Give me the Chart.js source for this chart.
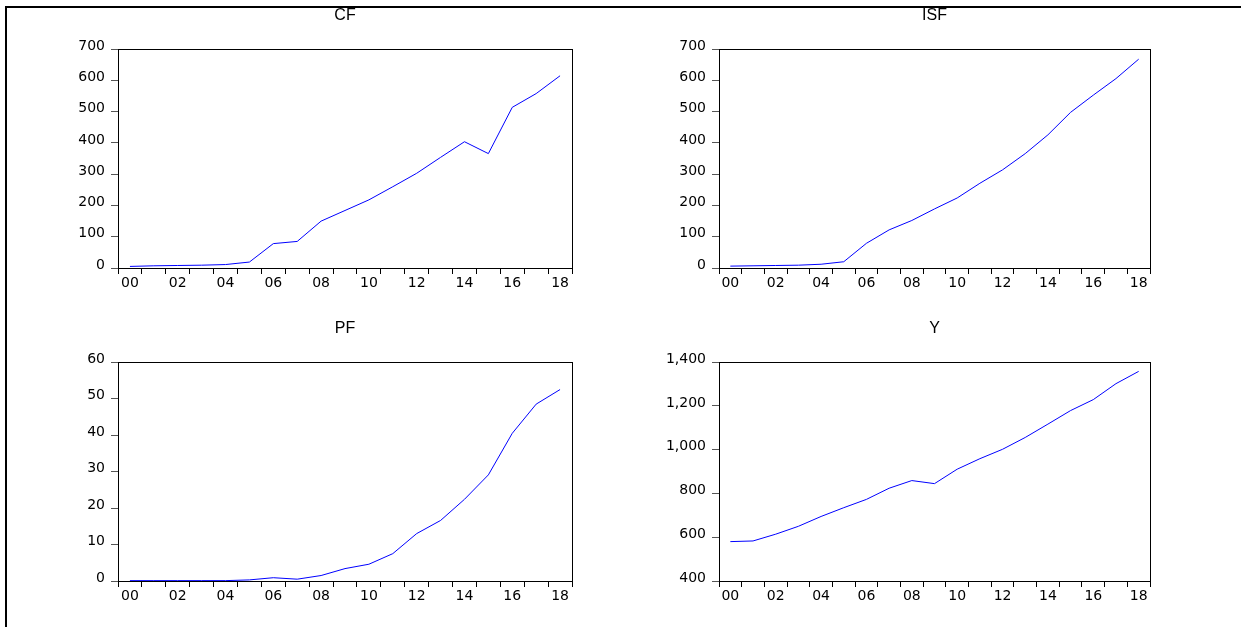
<!DOCTYPE html>
<html>
<head>
<meta charset="utf-8">
<script src="https://cdn.jsdelivr.net/npm/chart.js@4/dist/chart.umd.min.js"></script>
<style>
  html, body { margin: 0; padding: 0; background: #fff; }
  body { width: 1241px; height: 627px; position: relative; overflow: hidden; }
  .outer { position: absolute; left: 5px; top: 6px; right: -10px; bottom: -10px; border-top: 2px solid #000; border-left: 2px solid #000; }
  .panel { position: absolute; height: 298px; }
</style>
</head>
<body>
<div class="outer"></div>
<div class="panel" style="left:38px; top:0px; width:544px;"><canvas id="cfChart"></canvas></div>
<div class="panel" style="left:639px; top:0px; width:521px;"><canvas id="isfChart"></canvas></div>
<div class="panel" style="left:38px; top:313px; width:544px;"><canvas id="pfChart"></canvas></div>
<div class="panel" style="left:639px; top:313px; width:521px;"><canvas id="yChart"></canvas></div>

<script>
// --- Data (annual, 2000-2018) ---
const years = ['00','01','02','03','04','05','06','07','08','09','10','11','12','13','14','15','16','17','18'];

const cfValues  = [5, 7, 8, 9, 11, 19, 78, 85, 150, 184, 218, 260, 303, 354, 404, 366, 514, 558, 615];
const isfValues = [6, 7, 8, 9, 12, 20, 79, 122, 152, 189, 224, 271, 314, 366, 426, 498, 553, 606, 668];
const pfValues  = [0.1, 0.1, 0.1, 0.1, 0.1, 0.3, 0.9, 0.5, 1.5, 3.4, 4.6, 7.5, 13.0, 16.6, 22.4, 29.1, 40.5, 48.5, 52.5];
const yValues   = [580, 583, 614, 650, 695, 735, 773, 824, 859, 845, 911, 959, 1002, 1056, 1117, 1179, 1229, 1302, 1358];

// draws the closed box round the plot area, like EViews
const framePlugin = {
    id: 'frame',
    afterDraw(chart) {
        const a = chart.chartArea;
        const ctx = chart.ctx;
        ctx.save();
        ctx.strokeStyle = '#000';
        ctx.lineWidth = 1;
        ctx.strokeRect(Math.round(a.left) + 0.5, Math.round(a.top) + 0.5,
                       Math.round(a.right - a.left), Math.round(a.bottom - a.top));
        ctx.restore();
    }
};

function makeChart(id, title, values, yMin, yMax, yStep) {
    const ctx = document.getElementById(id).getContext('2d');
    return new Chart(ctx, {
        type: 'line',
        data: {
            labels: years,
            datasets: [{
                data: values,
                borderColor: '#0000ff',
                borderWidth: 1,
                pointRadius: 0,
                tension: 0,
                fill: false
            }]
        },
        options: {
            responsive: true,
            maintainAspectRatio: false,
            animation: false,
            layout: { padding: { top: 0, right: 10, bottom: 0, left: 0 } },
            plugins: {
                legend: { display: false },
                tooltip: { enabled: false },
                title: {
                    display: true,
                    fullSize: false, // centre the title over the plot area only
                    text: title,
                    color: '#000',
                    font: { family: 'Liberation Sans', size: 16, weight: 'normal' },
                    padding: { top: 6, bottom: 24 }
                }
            },
            scales: {
                x: {
                    type: 'category',
                    offset: true,
                    grid: { offset: true, drawOnChartArea: false, tickLength: 6, color: '#000' },
                    border: { display: true, color: '#000' },
                    ticks: {
                        autoSkip: false,
                        maxRotation: 0,
                        padding: 1,
                        color: '#000',
                        font: { family: 'DejaVu Sans', size: 14 },
                        callback: function(value, index) {
                            return index % 2 === 0 ? years[index] : '';
                        }
                    },
                    afterFit: function(scale) { scale.height = 30; }
                },
                y: {
                    min: yMin,
                    max: yMax,
                    grid: { drawOnChartArea: false, tickLength: 7, color: '#555' },
                    border: { display: true, color: '#000' },
                    ticks: {
                        stepSize: yStep,
                        padding: 6,
                        labelOffset: -3,
                        color: '#000',
                        font: { family: 'DejaVu Sans', size: 14 }
                    },
                    afterFit: function(scale) { scale.width = 80; }
                }
            }
        },
        plugins: [framePlugin]
    });
}

makeChart('cfChart', 'CF', cfValues, 0, 700, 100);
makeChart('isfChart', 'ISF', isfValues, 0, 700, 100);
makeChart('pfChart', 'PF', pfValues, 0, 60, 10);
makeChart('yChart', 'Y', yValues, 400, 1400, 200);
</script>
</body>
</html>
